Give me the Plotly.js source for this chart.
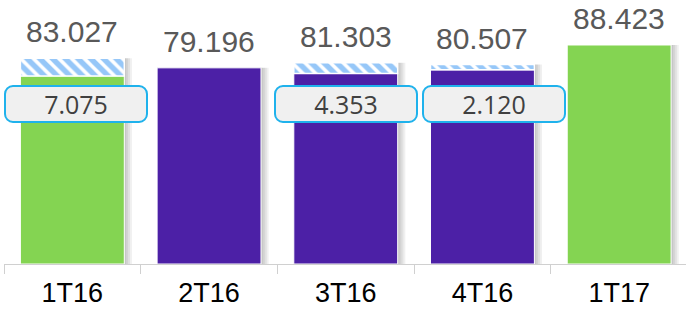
<!DOCTYPE html>
<html>
<head>
<meta charset="utf-8">
<script src="https://cdn.plot.ly/plotly-3.0.1.min.js"></script>
<style>
html,body{margin:0;padding:0;background:#fff;overflow:hidden;}
#chart{width:686px;height:311px;}
</style>
</head>
<body>
<div id="chart"></div>
<script>
// ---- data ----
const categories = ['1T16', '2T16', '3T16', '4T16', '1T17'];
const totals = [83.027, 79.196, 81.303, 80.507, 88.423];
const adjustments = [7.075, null, 4.353, 2.120, null];
const adjustmentLabels = ['7.075', null, '4.353', '2.120', null];
const totalLabels = ['83.027', '79.196', '81.303', '80.507', '88.423'];

// ---- style ----
const GREEN = '#84d452';
const PURPLE = '#4c20a6';
const barColors = [GREEN, PURPLE, PURPLE, PURPLE, GREEN];
const BW = 0.76;
const boxShift = [4, 0, 0, 12, 0];

const baseValues = totals.map((t, i) => adjustments[i] == null ? t : t - adjustments[i]);

const traces = [];
// soft shadow layers
[1, 2, 3, 4].forEach(k => {
  traces.push({
    type: 'bar', x: categories, y: totals, width: BW, offset: -BW / 2 + 0.014 * k,
    marker: {color: 'rgba(0,0,0,0.06)', line: {width: 0}},
    hoverinfo: 'skip', showlegend: false
  });
});
// main bars
traces.push({
  type: 'bar', x: categories, y: baseValues, width: BW, offset: -BW / 2,
  marker: {color: barColors, line: {color: '#ffffff', width: 1}},
  showlegend: false
});
// hatched adjustment segments
traces.push({
  type: 'bar', x: categories, y: adjustments, base: baseValues, width: BW, offset: -BW / 2,
  marker: {
    color: '#ffffff',
    line: {color: '#ffffff', width: 1.5},
    pattern: {shape: '\\', fgcolor: '#2e8ff2', bgcolor: '#ffffff', size: 9, solidity: 0.6, fillmode: 'overlay'}
  },
  showlegend: false
});

const annotations = [];
categories.forEach((c, i) => {
  annotations.push({
    x: c, y: totals[i], xref: 'x', yref: 'y', yanchor: 'bottom', yshift: 8,
    text: totalLabels[i], showarrow: false,
    font: {family: 'Liberation Sans, Arial, sans-serif', size: 30, color: '#595959'}
  });
  if (adjustments[i] != null) {
    annotations.push({
      x: c, y: 0.630, xref: 'x', yref: 'paper', yanchor: 'middle', xshift: boxShift[i],
      text: adjustmentLabels[i], showarrow: false,
      width: 140, height: 34, borderpad: 0,
      bgcolor: '#f0f0f0', bordercolor: '#1fb2ec', borderwidth: 2,
      font: {family: 'Open Sans, sans-serif', size: 25, color: '#404040'}
    });
  }
});

const layout = {
  width: 686, height: 311,
  margin: {l: 4, r: 0, t: 10, b: 47},
  paper_bgcolor: '#ffffff', plot_bgcolor: '#ffffff',
  barmode: 'overlay',
  showlegend: false,
  xaxis: {
    type: 'category', range: [-0.5, 4.489],
    showline: true, linecolor: '#d0d0d0', linewidth: 1,
    ticks: 'outside', tickson: 'boundaries', ticklen: 9, tickcolor: '#d0d0d0',
    ticklabelstandoff: 5,
    showgrid: false, zeroline: false,
    tickfont: {family: 'Liberation Sans, Arial, sans-serif', size: 27, color: '#000000'}
  },
  yaxis: {visible: false, range: [0, 102.55], showgrid: false, zeroline: false, fixedrange: true},
  annotations: annotations
};

function roundBoxes() {
  document.querySelectorAll('#chart .annotation rect.bg').forEach(r => {
    if (+r.getAttribute('width') > 100) { r.setAttribute('rx', 8); r.setAttribute('ry', 8); }
  });
}
Plotly.newPlot('chart', traces, layout, {displayModeBar: false, staticPlot: true}).then(gd => {
  roundBoxes();
  gd.on('plotly_afterplot', roundBoxes);
});
</script>
</body>
</html>
